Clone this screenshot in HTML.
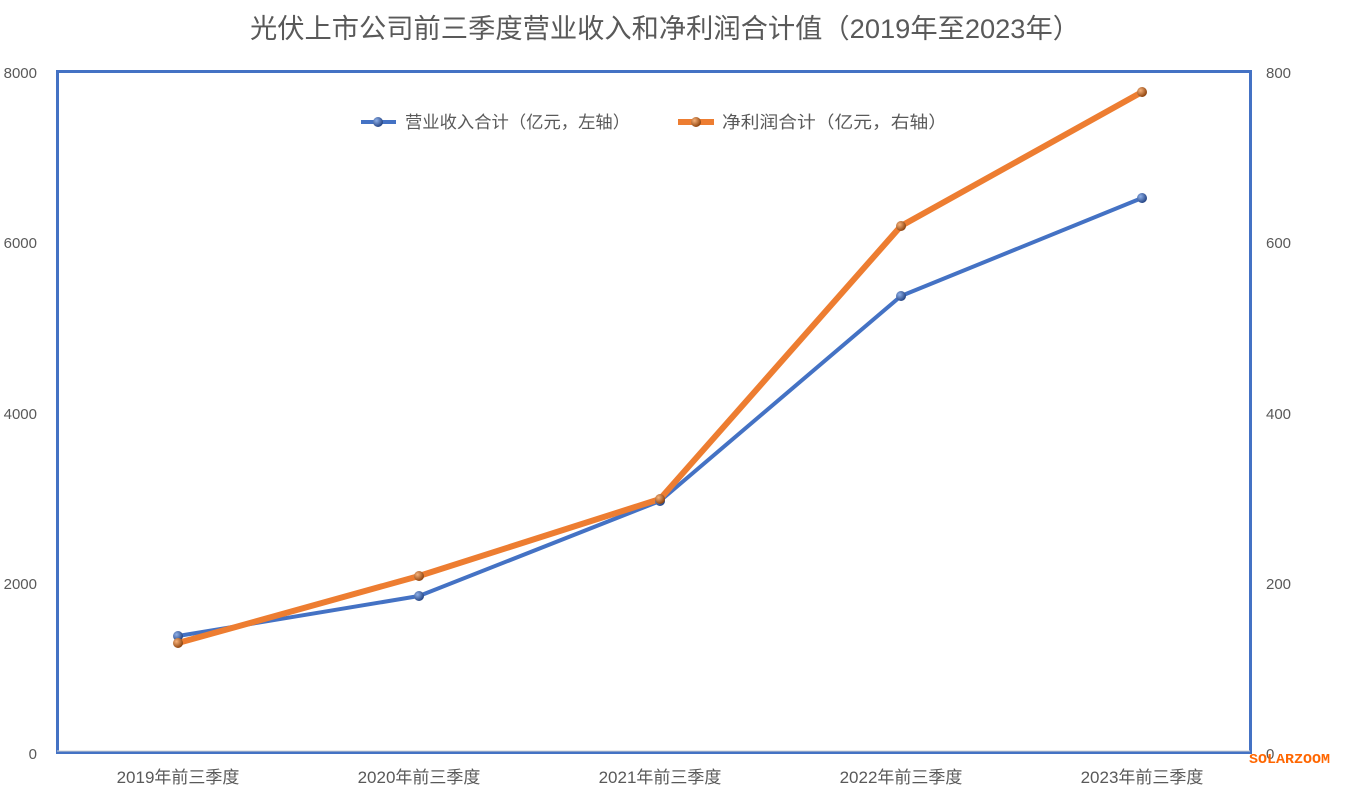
<!DOCTYPE html>
<html><head><meta charset="utf-8"><style>
body{margin:0;background:#fff;}
svg{display:block;font-family:"Liberation Sans","Noto Sans CJK SC",sans-serif;}
</style></head><body>
<svg width="1351" height="793" viewBox="0 0 1351 793">
<defs>
<radialGradient id="gb" cx="0.35" cy="0.35" r="0.7"><stop offset="0" stop-color="#8fb0e8"/><stop offset="1" stop-color="#1f3f80"/></radialGradient>
<radialGradient id="go" cx="0.35" cy="0.35" r="0.7"><stop offset="0" stop-color="#f7b27a"/><stop offset="1" stop-color="#8a3e08"/></radialGradient>
</defs>
<text x="665" y="38" font-size="27" fill="#595959" text-anchor="middle" textLength="830" lengthAdjust="spacingAndGlyphs">光伏上市公司前三季度营业收入和净利润合计值（2019年至2023年）</text>
<rect x="57.5" y="71.5" width="1193" height="681" fill="none" stroke="#4472c4" stroke-width="3"/>
<line x1="57" y1="751" x2="1250" y2="751" stroke="#d0d0d0" stroke-width="1"/>
<g fill="#595959" font-size="15" text-anchor="end">
<text x="37" y="78">8000</text><text x="37" y="248">6000</text><text x="37" y="419">4000</text><text x="37" y="589">2000</text><text x="37" y="759">0</text>
</g>
<g fill="#595959" font-size="15" text-anchor="start">
<text x="1266" y="78">800</text><text x="1266" y="248">600</text><text x="1266" y="419">400</text><text x="1266" y="589">200</text><text x="1266" y="759">0</text>
</g>
<g fill="#595959" font-size="17" text-anchor="middle">
<text x="178" y="783">2019年前三季度</text><text x="419" y="783">2020年前三季度</text><text x="660" y="783">2021年前三季度</text><text x="901" y="783">2022年前三季度</text><text x="1142" y="783">2023年前三季度</text>
</g>
<polyline points="178,636 419,596 660,501 901,296 1142,198" fill="none" stroke="#4472c4" stroke-width="4" stroke-linejoin="round"/>
<polyline points="178,643 419,576 660,499 901,226 1142,92" fill="none" stroke="#ed7d31" stroke-width="6" stroke-linejoin="round"/>
<g fill="url(#gb)">
<circle cx="178" cy="636" r="5"/><circle cx="419" cy="596" r="5"/><circle cx="660" cy="501" r="5"/><circle cx="901" cy="296" r="5"/><circle cx="1142" cy="198" r="5"/>
</g>
<g fill="url(#go)">
<circle cx="178" cy="643" r="5"/><circle cx="419" cy="576" r="5"/><circle cx="660" cy="499" r="5"/><circle cx="901" cy="226" r="5"/><circle cx="1142" cy="92" r="5"/>
</g>
<line x1="361" y1="122" x2="396" y2="122" stroke="#4472c4" stroke-width="4"/>
<circle cx="378" cy="122" r="5" fill="url(#gb)"/>
<text x="405" y="128" font-size="17" fill="#595959" textLength="225" lengthAdjust="spacingAndGlyphs">营业收入合计（亿元，左轴）</text>
<line x1="678" y1="122" x2="714" y2="122" stroke="#ed7d31" stroke-width="6"/>
<circle cx="696" cy="122" r="5" fill="url(#go)"/>
<text x="722" y="128" font-size="17" fill="#595959" textLength="225" lengthAdjust="spacingAndGlyphs">净利润合计（亿元，右轴）</text>
<text x="1249" y="763" font-size="14" fill="#ff6600" font-weight="bold" font-family="Liberation Mono,monospace" textLength="81" lengthAdjust="spacingAndGlyphs">SOLARZOOM</text>
</svg>
</body></html>
